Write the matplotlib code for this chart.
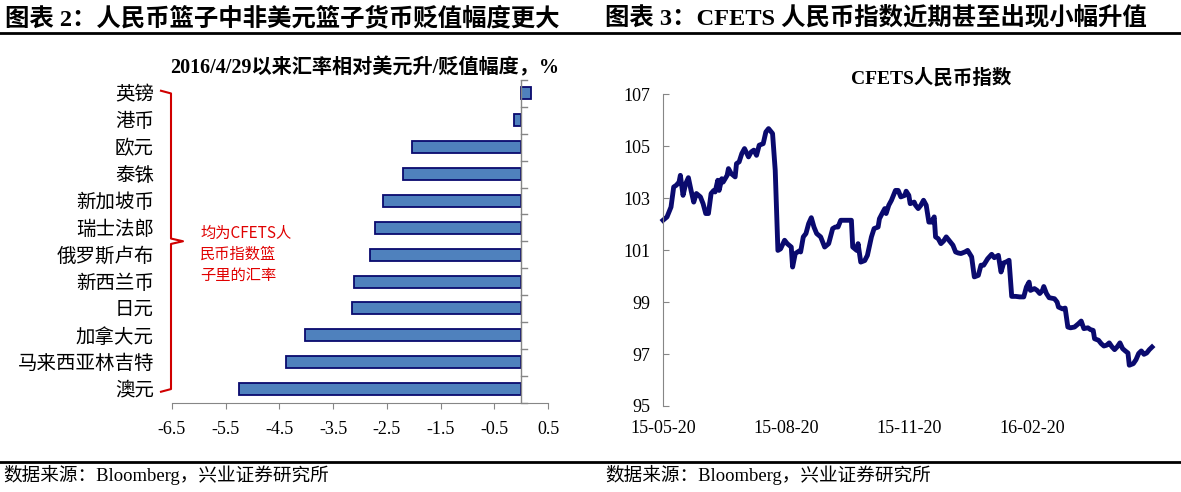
import numpy as np
import pandas as pd
import matplotlib
matplotlib.use('Agg')
import matplotlib.pyplot as plt
import matplotlib.dates as mdates
from matplotlib.lines import Line2D
from matplotlib.ticker import FixedLocator
import matplotlib.transforms as mtrans

plt.rcParams['font.family'] = ['Liberation Serif', 'Noto Sans CJK SC']
plt.rcParams['axes.unicode_minus'] = False

# left chart: change vs USD since 2016/4/29, %
currencies = ['英镑', '港币', '欧元', '泰铢', '新加坡币', '瑞士法郎', '俄罗斯卢布',
              '新西兰币', '日元', '加拿大元', '马来西亚林吉特', '澳元']
changes = [0.18, -0.13, -2.03, -2.20, -2.57, -2.73, -2.81, -3.12, -3.15, -4.03, -4.38, -5.25]
left_ticks = [-6.5, -5.5, -4.5, -3.5, -2.5, -1.5, -0.5, 0.5]

# right chart: CFETS index, days counted from start_date
start_date = '2015-05-20'
day_offsets = [0, 3, 6, 8, 10, 12, 13, 15, 17, 19,
               21, 23, 25, 28, 30, 32, 34, 36, 38, 39,
               41, 42, 44, 45, 48, 49, 51, 54, 55, 57,
               59, 61, 64, 66, 68, 70, 72, 75, 77, 79,
               82, 84, 86, 88, 91, 93, 96, 97, 99, 102,
               103, 105, 107, 109, 111, 113, 115, 118, 121, 124,
               127, 129, 131, 133, 138, 141, 142, 145, 146, 148,
               151, 153, 156, 158, 161, 162, 164, 166, 167, 169,
               171, 174, 176, 178, 181, 182, 184, 185, 188, 189,
               191, 193, 195, 197, 199, 201, 203, 204, 206, 208,
               210, 212, 215, 217, 219, 221, 223, 226, 228, 231,
               233, 236, 238, 240, 243, 246, 248, 251, 252, 253,
               255, 257, 259, 261, 264, 267, 270, 272, 274, 275,
               278, 280, 282, 284, 285, 287, 289, 293, 295, 296,
               299, 301, 303, 305, 308, 311, 313, 315, 318, 320,
               322, 323, 326, 328, 330, 332, 334, 336, 338, 340,
               342, 344, 346, 348, 349, 352, 354, 356, 358, 360,
               362, 364, 366]
cfets = [102.15, 102.28, 102.66, 103.43, 103.5, 103.62, 103.88, 103.11, 103.56, 103.79,
         103.3, 102.85, 103.18, 103.05, 102.79, 102.41, 102.41, 103.18, 103.3, 103.24,
         103.69, 103.3, 103.75, 103.62, 103.88, 104.14, 103.95, 103.82, 104.33, 104.4,
         104.72, 104.91, 104.59, 104.78, 104.85, 104.65, 105.04, 105.1, 105.55, 105.68,
         105.49, 104.07, 100.99, 101.05, 101.38, 101.25, 101.12, 100.35, 100.87, 100.97,
         100.93, 101.51, 101.64, 102.02, 102.25, 101.89, 101.64, 101.51, 101.12, 101.25,
         101.83, 101.89, 101.89, 102.15, 102.15, 102.15, 101.12, 100.99, 101.25, 100.54,
         100.6, 100.8, 101.51, 101.83, 101.89, 102.21, 102.41, 102.6, 102.41, 102.73,
         102.92, 103.3, 103.3, 103.05, 103.11, 103.27, 103.11, 102.79, 102.85, 102.73,
         102.6, 102.73, 102.92, 102.73, 102.08, 102.08, 102.28, 101.51, 101.44, 101.25,
         101.35, 101.51, 101.32, 101.19, 100.93, 100.89, 100.87, 100.93, 100.99, 100.74,
         99.97, 100.03, 100.42, 100.42, 100.67, 100.84, 100.71, 100.8, 100.48, 100.16,
         100.51, 100.55, 100.61, 99.22, 99.22, 99.2, 99.2, 99.58, 99.77, 99.45,
         99.52, 99.45, 99.33, 99.45, 99.6, 99.33, 99.17, 99.13, 99.0, 98.81,
         98.74, 98.77, 98.04, 98.01, 98.04, 98.17, 98.27, 97.98, 98.01, 97.94,
         97.91, 97.59, 97.53, 97.4, 97.31, 97.34, 97.43, 97.28, 97.17, 97.28,
         97.43, 97.21, 97.12, 97.04, 96.57, 96.63, 96.78, 97.02, 97.12, 96.99,
         97.04, 97.17, 97.27]
date_ticks = ['2015-05-20', '2015-08-20', '2015-11-20', '2016-02-20']

W, H = 1181, 492
fig = plt.figure(figsize=(W / 100, H / 100), dpi=100)

def box(x0, y0, x1, y1):
    # pixel box (top-left origin) -> figure fraction rect
    return [x0 / W, 1 - y1 / H, (x1 - x0) / W, (y1 - y0) / H]

axis_grey = '#868686'
navy = '#0A0A6E'

# headers and rules
fig.text(5 / W, 1 - 18 / H, '图表 2：人民币篮子中非美元篮子货币贬值幅度更大',
         fontsize=17.6, fontweight='bold', va='center', ha='left')
fig.text(605 / W, 1 - 18 / H, '图表 3：CFETS 人民币指数近期甚至出现小幅升值',
         fontsize=17.6, fontweight='bold', va='center', ha='left')
fig.add_artist(Line2D([0, 1], [1 - 33 / H] * 2, color='black', lw=2))
fig.add_artist(Line2D([0, 1], [1 - 462 / H] * 2, color='black', lw=2))
fig.text(3 / W, 1 - 475 / H, '数据来源：Bloomberg，兴业证券研究所', fontsize=13.4, va='center')
fig.text(605 / W, 1 - 475 / H, '数据来源：Bloomberg，兴业证券研究所', fontsize=13.4, va='center')

# ---- left: bar chart
ax1 = fig.add_axes(box(172, 80, 548, 402.5))
pos = np.arange(len(currencies))
ax1.barh(pos, changes, height=0.45, color='#4F81BD', edgecolor=navy, linewidth=1.3, zorder=3)
ax1.set_xlim(left_ticks[0], left_ticks[-1])
ax1.set_ylim(len(currencies) - 0.5, -0.5)
ax1.set_xticks(left_ticks)
ax1.set_xticklabels(['%.1f' % v for v in left_ticks])
ax1.set_yticks(pos)
ax1.set_yticklabels(currencies)
for s in ['top', 'right', 'left']:
    ax1.spines[s].set_visible(False)
ax1.spines['bottom'].set_color(axis_grey)
ax1.tick_params(axis='x', direction='out', length=4, color=axis_grey, labelsize=13, pad=9)
ax1.tick_params(axis='y', length=0, labelsize=14, pad=13)
# category axis sits at zero
ax1.axvline(0, color=axis_grey, lw=1, zorder=4)
for b in np.arange(-0.5, len(currencies), 1):
    ax1.plot([0, 0.11], [b, b], color=axis_grey, lw=1, zorder=4, clip_on=False)
ax1.set_title('2016/4/29以来汇率相对美元升/贬值幅度，%', fontsize=14.5, fontweight='bold',
              x=(365 - 172) / 376, pad=5)

# red bracket and note
tr = mtrans.blended_transform_factory(ax1.transAxes, ax1.transData)
bx0, bx1, bx2 = (161 - 172) / 376, (171 - 172) / 376, (183 - 172) / 376
mid = (len(currencies) - 1) / 2
ax1.add_line(Line2D([bx0, bx1, bx1, bx2, bx1, bx1, bx0],
                    [-0.1, 0, mid - 0.1, mid, mid + 0.1, len(currencies) - 1, len(currencies) - 0.9],
                    transform=tr, color='#D00000', lw=1.5, clip_on=False))
fig.text(200 / W, 1 - 225 / H, '均为CFETS人\n民币指数篮\n子里的汇率', family=['Noto Sans CJK SC'],
         fontsize=11, color='#E00000', va='top', ha='left', linespacing=1.3)

# ---- right: CFETS index line
ax2 = fig.add_axes(box(663, 94.3, 1152, 406))
dates = pd.to_datetime(start_date) + pd.to_timedelta(day_offsets, unit='D')
ax2.plot(dates, cfets, color=navy, lw=3.5, solid_joinstyle='round', clip_on=False)
ax2.set_xlim(dates[0], dates[-1])
ax2.set_ylim(95, 107)
ax2.set_yticks(range(95, 108, 2))
ax2.xaxis.set_major_locator(FixedLocator(mdates.date2num(pd.to_datetime(date_ticks))))
ax2.xaxis.set_major_formatter(mdates.DateFormatter('%y-%m-%d'))
for s in ['top', 'right', 'bottom']:
    ax2.spines[s].set_visible(False)
ax2.spines['left'].set_color(axis_grey)
ax2.tick_params(axis='y', direction='in', length=4, color=axis_grey, labelsize=13, pad=9)
ax2.tick_params(axis='x', length=0, labelsize=13, pad=10)
fig.text(931 / W, 1 - 78 / H, 'CFETS人民币指数', fontsize=14, fontweight='bold',
         ha='center', va='center')

fig.savefig('out.png', dpi=100)
